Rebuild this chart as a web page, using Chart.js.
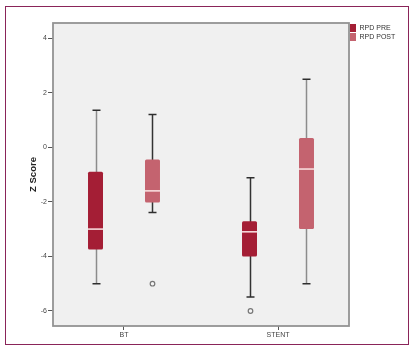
<!DOCTYPE html>
<html>
<head>
<meta charset="utf-8">
<script src="https://cdn.jsdelivr.net/npm/chart.js@4.4.1/dist/chart.umd.min.js"></script>
<style>
  html, body { margin: 0; padding: 0; background: #ffffff; }
  #wrap { position: relative; width: 416px; height: 352px; }
  #frame { position: absolute; left: 5px; top: 6px; width: 402px; height: 337px;
           border: 1.5px solid #8a2459; pointer-events: none; }
  canvas { position: absolute; left: 0; top: 0; }
</style>
</head>
<body>
<div id="wrap">
  <canvas id="c" width="416" height="352"></canvas>
  <div id="frame"></div>
</div>
<script>
// ---- data ----
const categories = ['BT', 'STENT'];
const seriesNames = ['RPD PRE', 'RPD POST'];
// per category: whisker low, Q1, median, Q3, whisker high
const preMin    = [-5.0, -5.49];
const preQ1     = [-3.75, -4.0];
const preMedian = [-3.0, -3.1];
const preQ3     = [-0.9, -2.71];
const preMax    = [1.35, -1.12];
const preOutliers = [[], [-6.0]];

const postMin    = [-2.39, -5.0];
const postQ1     = [-2.03, -3.0];
const postMedian = [-1.6, -0.8];
const postQ3     = [-0.45, 0.34];
const postMax    = [1.2, 2.49];
const postOutliers = [[-5.0], []];

const yTicks = [-6, -4, -2, 0, 2, 4];
const yMin = -6.55, yMax = 4.55;

const FONT = 'Arial, "Liberation Sans", sans-serif';

function boxData(q1, q3) {
  return categories.map((c, i) => ({ x: i, y: [q1[i], q3[i]] }));
}

const datasets = [
  {
    label: seriesNames[0],
    data: boxData(preQ1, preQ3),
    backgroundColor: '#a41e35',
    borderWidth: 0,
    borderRadius: 1.5,
    borderSkipped: false,
    stats: { min: preMin, med: preMedian, max: preMax, out: preOutliers },
    whiskerColors: ['#8c8c8c', '#333333']
  },
  {
    label: seriesNames[1],
    data: boxData(postQ1, postQ3),
    backgroundColor: '#c4636f',
    borderWidth: 0,
    borderRadius: 1.5,
    borderSkipped: false,
    stats: { min: postMin, med: postMedian, max: postMax, out: postOutliers },
    whiskerColors: ['#333333', '#8c8c8c']
  }
];

const boxPlugin = {
  id: 'boxplot',
  beforeDraw(chart) {
    const { ctx, chartArea: a } = chart;
    ctx.save();
    ctx.fillStyle = '#f0f0f0';
    ctx.fillRect(a.left, a.top, a.right - a.left, a.bottom - a.top);
    ctx.restore();
  },
  beforeDatasetsDraw(chart) {
    const { ctx } = chart;
    const y = chart.scales.y;
    ctx.save();
    chart.data.datasets.forEach((ds, di) => {
      const meta = chart.getDatasetMeta(di);
      meta.data.forEach((el, i) => {
        const x = Math.round(el.x) + 0.5;
        const yLo = y.getPixelForValue(ds.stats.min[i]);
        const yHi = y.getPixelForValue(ds.stats.max[i]);
        ctx.strokeStyle = ds.whiskerColors[i];
        ctx.lineWidth = 1.5;
        ctx.beginPath();
        ctx.moveTo(x, yLo);
        ctx.lineTo(x, yHi);
        ctx.stroke();
        ctx.strokeStyle = '#2e2e2e';
        ctx.lineWidth = 1.5;
        const cw = 4;
        ctx.beginPath();
        ctx.moveTo(x - cw, yLo); ctx.lineTo(x + cw, yLo);
        ctx.moveTo(x - cw, yHi); ctx.lineTo(x + cw, yHi);
        ctx.stroke();
      });
    });
    ctx.restore();
  },
  afterDatasetsDraw(chart) {
    const { ctx, chartArea: a } = chart;
    const y = chart.scales.y;
    ctx.save();
    chart.data.datasets.forEach((ds, di) => {
      const meta = chart.getDatasetMeta(di);
      meta.data.forEach((el, i) => {
        const ym = y.getPixelForValue(ds.stats.med[i]);
        ctx.strokeStyle = '#fbe4e4';
        ctx.lineWidth = 1.5;
        ctx.beginPath();
        ctx.moveTo(el.x - el.width / 2, ym);
        ctx.lineTo(el.x + el.width / 2, ym);
        ctx.stroke();
        ds.stats.out[i].forEach(v => {
          const yo = y.getPixelForValue(v);
          ctx.beginPath();
          ctx.arc(Math.round(el.x) + 0.5, yo, 2.3, 0, Math.PI * 2);
          ctx.fillStyle = '#f4f4f4';
          ctx.fill();
          ctx.strokeStyle = '#777777';
          ctx.lineWidth = 1.2;
          ctx.stroke();
        });
      });
    });
    // plot frame
    ctx.strokeStyle = '#939393';
    ctx.lineWidth = 1.8;
    ctx.strokeRect(a.left, a.top, a.right - a.left, a.bottom - a.top);
    ctx.restore();
  }
};

new Chart(document.getElementById('c'), {
  type: 'bar',
  data: { datasets },
  plugins: [boxPlugin],
  options: {
    responsive: false,
    animation: false,
    devicePixelRatio: 1,
    layout: { padding: { left: 0, right: 17, top: 23, bottom: 0 } },
    datasets: { bar: { categoryPercentage: 0.74, barPercentage: 0.263 } },
    plugins: {
      tooltip: { enabled: false },
      legend: {
        position: 'right',
        align: 'start',
        maxWidth: 50,
        labels: {
          boxWidth: 6, boxHeight: 8, padding: 1,
          color: '#333333',
          font: { family: FONT, size: 7 }
        }
      }
    },
    scales: {
      x: {
        type: 'linear',
        offset: false,
        min: -0.461, max: 1.461,
        afterBuildTicks(scale) { scale.ticks = categories.map((c, i) => ({ value: i })); },
        afterFit(scale) { scale.height = 26; },
        grid: { offset: false, drawOnChartArea: false, drawTicks: true, tickLength: 4, color: '#555555', lineWidth: 1 },
        border: { display: false },
        ticks: {
          color: '#444444', padding: 1,
          font: { family: FONT, size: 7 },
          callback: (v) => categories[v]
        }
      },
      y: {
        type: 'linear',
        min: yMin, max: yMax,
        afterBuildTicks(scale) { scale.ticks = yTicks.map(v => ({ value: v })); },
        afterFit(scale) { scale.width = 53; },
        grid: { drawOnChartArea: false, drawTicks: true, tickLength: 5, color: '#555555', lineWidth: 1 },
        border: { display: false },
        ticks: {
          color: '#444444', padding: 1,
          font: { family: FONT, size: 7 }
        },
        title: {
          display: true, text: 'Z Score', color: '#222222',
          font: { family: FONT, size: 9.5, weight: 'bold' },
          padding: { top: 27.8, bottom: 0 }
        }
      }
    }
  }
});
</script>
</body>
</html>
